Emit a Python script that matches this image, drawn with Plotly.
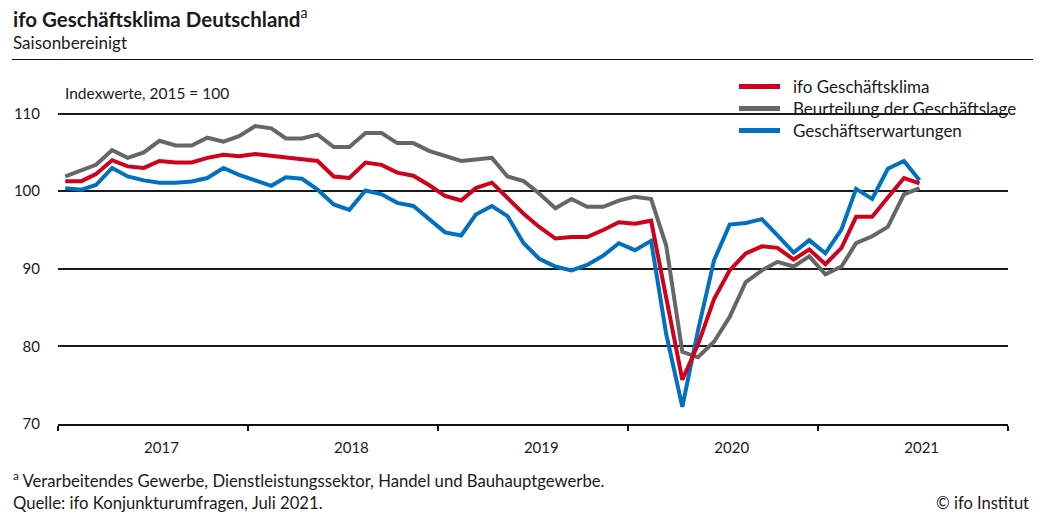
import pandas as pd
import plotly.graph_objects as go

# ---------------- data (Jan 2017 – Jul 2021, monthly) ----------------
months = pd.date_range("2017-01-01", periods=55, freq="MS")

klima = [101.3, 101.3, 102.2, 104.0, 103.2, 103.0, 103.9, 103.7, 103.7, 104.3, 104.7, 104.5,
         104.8, 104.6, 104.4, 104.2, 103.9, 101.9, 101.7, 103.7, 103.4, 102.4, 102.0, 100.8,
         99.4, 98.8, 100.4, 101.1, 99.2, 97.1, 95.4, 93.9, 94.1, 94.1, 95.0, 96.0,
         95.8, 96.2, 86.3, 75.7, 80.2, 86.1, 89.8, 92.0, 92.9, 92.7, 91.2, 92.5,
         90.6, 92.7, 96.7, 96.7, 99.2, 101.7, 101.0]

lage = [101.9, 102.7, 103.4, 105.3, 104.3, 105.0, 106.5, 105.9, 105.9, 106.9, 106.4, 107.1,
        108.4, 108.1, 106.8, 106.8, 107.3, 105.7, 105.7, 107.5, 107.5, 106.2, 106.2, 105.2,
        104.5, 103.9, 104.1, 104.3, 101.9, 101.3, 99.7, 97.8, 99.0, 98.0, 98.0, 98.8,
        99.3, 99.0, 93.0, 79.3, 78.6, 80.6, 83.8, 88.3, 89.8, 90.9, 90.3, 91.6,
        89.3, 90.3, 93.3, 94.2, 95.4, 99.6, 100.4]

erwartungen = [100.4, 100.2, 100.8, 103.0, 101.9, 101.4, 101.1, 101.1, 101.25, 101.7, 103.0, 102.1,
               101.4, 100.7, 101.8, 101.6, 100.2, 98.3, 97.6, 100.1, 99.6, 98.5, 98.1, 96.4,
               94.7, 94.3, 97.0, 98.1, 96.8, 93.3, 91.3, 90.3, 89.8, 90.5, 91.7, 93.3,
               92.4, 93.6, 81.6, 72.2, 82.0, 91.1, 95.7, 95.9, 96.4, 94.3, 92.1, 93.7,
               92.0, 95.1, 100.3, 99.0, 102.9, 103.9, 101.4]

series_names = ["ifo Geschäftsklima", "Beurteilung der Geschäftslage", "Geschäftserwartungen"]
series_colors = ["#D0021B", "#666666", "#0070C0"]

year_labels = ["2017", "2018", "2019", "2020", "2021"]
y_ticks = [70, 80, 90, 100, 110]

# ---------------- layout helpers ----------------
W, H = 1059, 531
L, R, T, B = 58, 51, 102, 107
PW, PH = W - L - R, H - T - B
FONT = "Lato"
TXT = "#1a1a1a"


def pxx(x):
    return (x - L) / PW


def pxy(y):
    return (H - B - y) / PH


x_mid = months + pd.Timedelta(days=14)

fig = go.Figure()
order = [1, 2, 0]  # draw gray, blue, red on top
data = [klima, lage, erwartungen]
for k in order:
    fig.add_trace(go.Scatter(x=x_mid, y=data[k], mode="lines", name=series_names[k],
                             line=dict(color=series_colors[k], width=4),
                             showlegend=False, hoverinfo="skip"))

year_starts = [pd.Timestamp(f"{y}-01-01") for y in range(2017, 2023)]
label_pos = [pd.Timestamp(f"{y}-07-19") for y in year_labels]

fig.update_xaxes(range=[year_starts[0], year_starts[-1]],
                 tickmode="array", tickvals=label_pos, ticktext=year_labels,
                 ticks="", showgrid=False, zeroline=False, ticklabelstandoff=9,
                 showline=True, linecolor="#111111", linewidth=1.5,
                 tickfont=dict(family=FONT, size=15, color=TXT),
                 minor=dict(tickmode="array", tickvals=year_starts, ticks="outside",
                            ticklen=5, tickwidth=1.5, tickcolor="#111111", showgrid=False))
fig.update_yaxes(range=[70, 111.5], tickmode="array", tickvals=y_ticks,
                 ticktext=[str(v) for v in y_ticks],
                 showgrid=True, gridcolor="#1a1a1a", gridwidth=1.5,
                 zeroline=False, showline=False, ticks="", ticklabelstandoff=17,
                 tickfont=dict(family=FONT, size=15, color=TXT))

shapes = []
annotations = []

# title, subtitle, rule
annotations.append(dict(text="<b>ifo Geschäftsklima Deutschland</b><sup>a</sup>",
                        x=pxx(11), y=pxy(17), xanchor="left", yanchor="middle",
                        font=dict(family=FONT, size=20.5, color=TXT)))
annotations.append(dict(text="Saisonbereinigt", x=pxx(11), y=pxy(42),
                        xanchor="left", yanchor="middle",
                        font=dict(family=FONT, size=17, color=TXT)))
shapes.append(dict(type="line", xref="paper", yref="paper",
                   x0=pxx(12), x1=pxx(1033), y0=pxy(59.5), y1=pxy(59.5),
                   line=dict(color="#111111", width=1.2)))

annotations.append(dict(text="Indexwerte, 2015 = 100", x=pxx(63), y=pxy(93),
                        xanchor="left", yanchor="middle",
                        font=dict(family=FONT, size=15.5, color=TXT)))

# manual legend
leg_y = [86.5, 108.5, 130.5]
for k, yy in enumerate(leg_y):
    shapes.append(dict(type="line", xref="paper", yref="paper",
                       x0=pxx(739), x1=pxx(780), y0=pxy(yy), y1=pxy(yy),
                       line=dict(color=series_colors[k], width=5)))
    annotations.append(dict(text=series_names[k], x=pxx(791), y=pxy(yy),
                            xanchor="left", yanchor="middle",
                            font=dict(family=FONT, size=17, color=TXT)))

# footnotes
annotations.append(dict(text="<sup>a</sup> Verarbeitendes Gewerbe, Dienstleistungssektor, Handel und Bauhauptgewerbe.",
                        x=pxx(11), y=pxy(480), xanchor="left", yanchor="middle",
                        font=dict(family=FONT, size=16.7, color=TXT)))
annotations.append(dict(text="Quelle: ifo Konjunkturumfragen, Juli 2021.",
                        x=pxx(11), y=pxy(503), xanchor="left", yanchor="middle",
                        font=dict(family=FONT, size=16.7, color=TXT)))
annotations.append(dict(text="© ifo Institut",
                        x=pxx(1031), y=pxy(503), xanchor="right", yanchor="middle",
                        font=dict(family=FONT, size=16.5, color=TXT)))

for a in annotations:
    a.update(xref="paper", yref="paper", showarrow=False)

fig.update_layout(width=W, height=H, margin=dict(l=L, r=R, t=T, b=B),
                  paper_bgcolor="white", plot_bgcolor="white",
                  showlegend=False, shapes=shapes, annotations=annotations,
                  font=dict(family=FONT, color=TXT))

fig.write_html("out.html", config={"displayModeBar": False},
               post_script="document.body.style.margin='0';document.body.style.padding='0';")
